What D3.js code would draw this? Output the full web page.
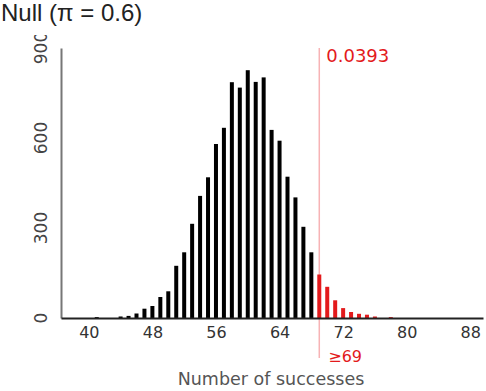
<!DOCTYPE html>
<html><head><meta charset="utf-8">
<script src="https://cdn.jsdelivr.net/npm/d3@7"></script>
<style>body{margin:0;background:#fff;} svg{display:block;}</style>
</head><body>
<svg id="c" width="486" height="391"></svg>
<script>
const successes = [41,44,45,46,47,48,49,50,51,52,53,54,55,56,57,58,59,60,61,62,63,64,65,66,67,68,69,70,71,72,73,74,75,76,78];
const counts    = [3,5,7,15,31,40,70,89,174,219,314,407,469,580,634,786,768,826,787,802,627,591,471,402,304,219,145,104,59,33,20,14,11,5,3];
const xTicks = [40,48,56,64,72,80,88];
const yTicks = [0,300,600,900];
const threshold = 69;
const pLabel = "0.0393";
const titleText = "Null (\u03c0 = 0.6)";
const xTitle = "Number of successes";

const svg = d3.select("#c");
const red = "#e31a1c";
const font = "'DejaVu Sans', Verdana, sans-serif";
const x = d3.scaleLinear().domain([36.5, 89.6]).range([61, 483]);
const y = d3.scaleLinear().domain([0, 900]).range([318, 48]);

svg.append("text").attr("x", 1).attr("y", 21)
  .style("font-family", "'Liberation Sans', Arial, sans-serif").style("font-size", "24px")
  .attr("fill", "#222").text(titleText);

svg.append("defs").append("clipPath").attr("id", "clip")
  .append("rect").attr("x", 0).attr("y", 35).attr("width", 486).attr("height", 356);
const g = svg.append("g").attr("clip-path", "url(#clip)");

// y axis
const ya = g.append("g").attr("transform", "translate(61,0)")
  .call(d3.axisLeft(y).tickValues(yTicks).tickSize(0).tickSizeOuter(0).tickFormat(d3.format("d")));
ya.select(".domain").attr("stroke", "#777").attr("stroke-width", 2);
ya.selectAll(".tick").attr("transform", null);
ya.selectAll("text")
  .attr("x", 0).attr("y", 0).attr("dy", 0)
  .attr("transform", d => `translate(-14,${y(d)}) rotate(-90)`)
  .attr("text-anchor", "middle")
  .style("font-family", font).style("font-size", "17px")
  .attr("fill", "#444");

// threshold line
g.append("line").attr("x1", x(threshold)).attr("x2", x(threshold))
  .attr("y1", y(900)).attr("y2", 358).attr("stroke", "#f7b3b5").attr("stroke-width", 1.5);

// bars
g.selectAll("rect.bar").data(successes).join("rect").attr("class", "bar")
  .attr("x", d => x(d) - 2).attr("width", 4)
  .attr("y", (d, i) => y(counts[i])).attr("height", (d, i) => y(0) - y(counts[i]))
  .attr("fill", d => d >= threshold ? red : "#000");

// x axis
const xa = g.append("g").attr("transform", `translate(0,${y(0)})`)
  .call(d3.axisBottom(x).tickValues(xTicks).tickSize(0).tickSizeOuter(0).tickPadding(9));
xa.select(".domain").attr("stroke", "#222").attr("stroke-width", 2);
xa.selectAll("text")
  .style("font-family", font).style("font-size", "16px")
  .attr("fill", "#333");

g.append("text").attr("x", x(threshold) + 7).attr("y", 62)
  .style("font-family", font).style("font-size", "18px")
  .attr("fill", red).text(pLabel);
g.append("text").attr("x", x(threshold) + 9).attr("y", 362)
  .style("font-family", font).style("font-size", "16px")
  .attr("fill", red).text("\u2265" + threshold);

svg.append("text").attr("x", 271).attr("y", 385).attr("text-anchor", "middle")
  .style("font-family", font).style("font-size", "17.5px")
  .attr("fill", "#555").text(xTitle);
</script>
</body></html>
